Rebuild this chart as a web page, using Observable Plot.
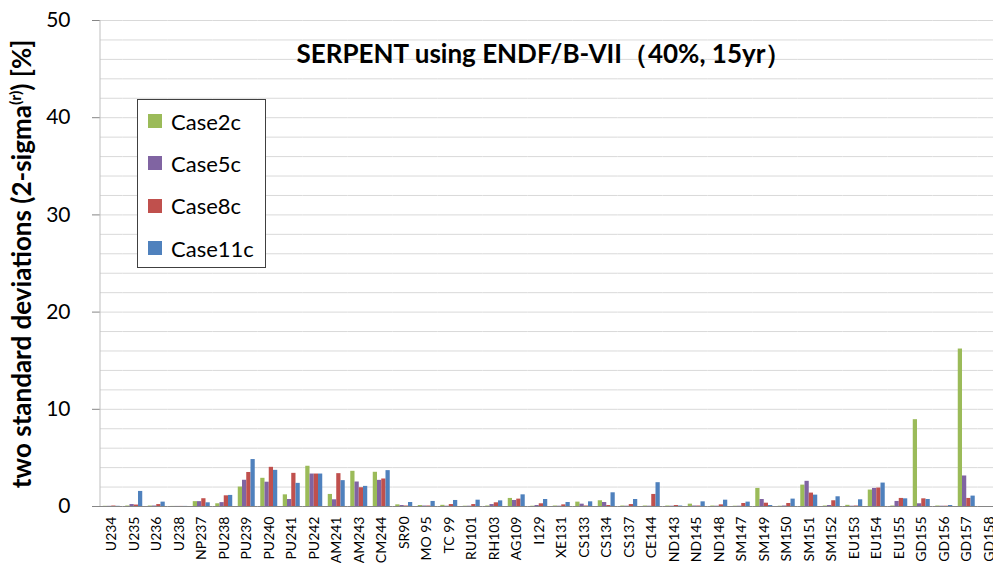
<!DOCTYPE html>
<html>
<head>
<meta charset="utf-8">
<script src="https://cdn.jsdelivr.net/npm/d3@7"></script>
<script src="https://cdn.jsdelivr.net/npm/@observablehq/plot@0.6"></script>
<style>
  html, body { margin: 0; padding: 0; background: #fff; overflow: hidden; }
  #wrap { position: relative; width: 993px; height: 563px; overflow: hidden; font-family: Lato, "Open Sans", sans-serif; }
  #wrap svg { max-width: none !important; }
  #wrap svg g[aria-label^="y-axis"] text { font-size: 21px; fill: #000; }
  #wrap svg g[aria-label^="y-axis"] line, #wrap svg g[aria-label^="y-axis"] path { stroke: #868686; }
  #wrap svg g[aria-label^="fx-axis"] text { font-size: 14px; fill: #000; }
  #legend { position: absolute; left: 137px; top: 99px; width: 129px; height: 169px; border: 1px solid #404040; background: #fff; box-sizing: border-box; padding-top: 0px; }
  #legend .row { display: flex; align-items: center; height: 42.3px; padding-left: 10px; font-size: 22px; color: #000; }
  #legend .sw { width: 14px; height: 14px; margin-right: 9px; }
</style>
</head>
<body>
<div id="wrap"></div>
<script>
const categories = ["U234","U235","U236","U238","NP237","PU238","PU239","PU240","PU241","PU242","AM241","AM243","CM244","SR90","MO 95","TC 99","RU101","RH103","AG109","I129","XE131","CS133","CS134","CS137","CE144","ND143","ND145","ND148","SM147","SM149","SM150","SM151","SM152","EU153","EU154","EU155","GD155","GD156","GD157","GD158"];
const seriesNames = ["Case2c","Case5c","Case8c","Case11c"];
const seriesColors = ["#9BBB59","#8064A2","#C0504D","#4F81BD"];
const case2c  = [0.02,0.05,0.05,0.01,0.5,0.28,2.0,2.9,1.2,4.14,1.24,3.62,3.52,0.17,0.1,0.12,0.03,0.05,0.83,0.03,0.05,0.45,0.59,0.05,0.05,0.05,0.24,0.05,0.03,1.86,0.03,2.2,0.05,0.12,1.69,0.05,8.93,0.05,16.2,0];
const case5c  = [0.02,0.2,0.05,0.01,0.5,0.4,2.7,2.5,0.72,3.34,0.69,2.52,2.69,0.1,0.05,0.03,0.03,0.2,0.62,0.1,0.03,0.24,0.41,0.03,0.03,0.03,0.05,0.03,0.03,0.72,0.05,2.59,0.1,0.03,1.86,0.52,0.28,0.03,3.14,0];
const case8c  = [0.05,0.15,0.2,0.01,0.8,1.1,3.5,4.03,3.41,3.34,3.38,1.93,2.83,0.05,0.05,0.2,0.2,0.38,0.76,0.28,0.17,0.05,0.1,0.2,1.24,0.1,0.05,0.17,0.31,0.34,0.31,1.38,0.59,0.05,1.9,0.83,0.79,0.03,0.83,0];
const case11c = [0.02,1.55,0.45,0.01,0.38,1.14,4.83,3.72,2.38,3.34,2.66,2.07,3.69,0.41,0.52,0.62,0.65,0.58,1.2,0.72,0.41,0.48,1.41,0.72,2.45,0.05,0.48,0.65,0.45,0.1,0.76,1.17,1.0,0.69,2.41,0.79,0.72,0.1,1.07,0];
const yTicks = [0,10,20,30,40,50];
const gridValues = d3.range(0, 51, 2);
const titleText = "SERPENT using ENDF/B-VII（40%, 15yr）";

const allSeries = [case2c, case5c, case8c, case11c];
const data = categories.flatMap((c, i) => seriesNames.map((s, j) => ({cat: c, series: s, value: allSeries[j][i]})));

const plot = Plot.plot({
  width: 1000,
  height: 563,
  marginLeft: 100,
  marginRight: 0,
  marginTop: 20,
  marginBottom: 57,
  style: {fontFamily: "Lato, 'Open Sans', sans-serif", background: "white", color: "#000", maxWidth: "none"},
  facet: {data: data, x: "cat"},
  fx: {domain: categories, padding: 0, round: false, label: null, tickRotate: -90, tickSize: 0, tickPadding: 10},
  x: {domain: seriesNames, axis: null, paddingInner: 0, paddingOuter: 0.65, round: false},
  y: {domain: [0, 50], ticks: yTicks, tickSize: 8, tickPadding: 22, label: null},
  color: {domain: seriesNames, range: seriesColors},
  marks: [
    Plot.ruleY(gridValues, {stroke: "#d9d9d9", strokeWidth: 1}),
    Plot.barY(data, {x: "series", y: "value", fill: "series"}),
    Plot.ruleY([0], {stroke: "#868686", strokeWidth: 1})
  ]
});

const wrap = document.getElementById("wrap");
wrap.appendChild(plot);

const svg = d3.select(plot.tagName.toLowerCase() === "svg" ? plot : plot.querySelector("svg"));
const yScale = plot.scale("y");
// vertical axis line
svg.append("line")
  .attr("x1", 100).attr("x2", 100)
  .attr("y1", yScale.apply(0)).attr("y2", yScale.apply(50))
  .attr("stroke", "#bfbfbf");

// title
svg.append("text")
  .attr("x", 544).attr("y", 63)
  .attr("text-anchor", "middle")
  .attr("font-size", 26)
  .attr("font-weight", "bold")
  .attr("fill", "#000")
  .text(titleText);

// y-axis label with superscript
const yl = svg.append("text")
  .attr("transform", "translate(31," + ((yScale.apply(0) + yScale.apply(50)) / 2 + 1) + ") rotate(-90)")
  .attr("text-anchor", "middle")
  .attr("font-size", 26)
  .attr("font-weight", "bold")
  .attr("fill", "#000");
yl.append("tspan").text("two standard deviations (2-sigma");
yl.append("tspan").attr("font-size", 16).attr("dy", -10).text("(r)");
yl.append("tspan").attr("dy", 10).text(") [%]");

// legend
const legend = document.createElement("div");
legend.id = "legend";
seriesNames.forEach((s, j) => {
  const row = document.createElement("div");
  row.className = "row";
  const sw = document.createElement("span");
  sw.className = "sw";
  sw.style.background = seriesColors[j];
  const t = document.createElement("span");
  t.textContent = s;
  row.appendChild(sw);
  row.appendChild(t);
  legend.appendChild(row);
});
wrap.appendChild(legend);
</script>
</body>
</html>
